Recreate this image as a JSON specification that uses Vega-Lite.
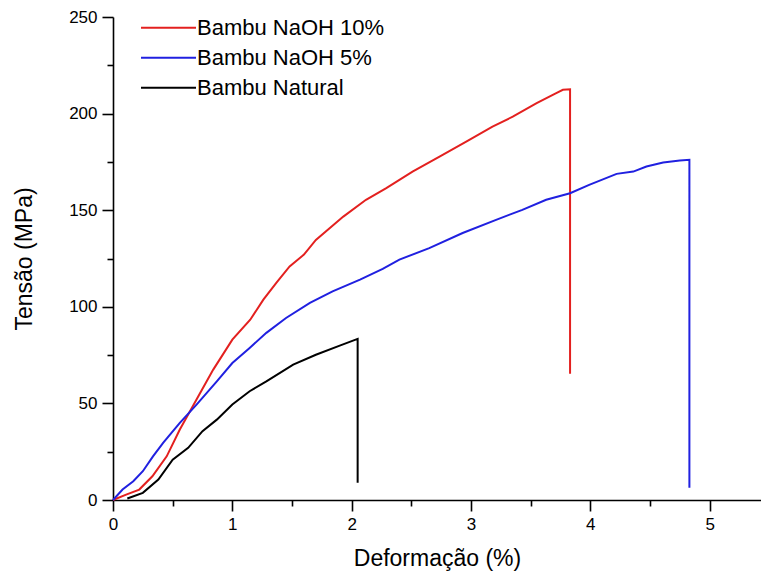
{
 "$schema": "https://vega.github.io/schema/vega-lite/v6.json",
 "width": 648, "height": 483,
 "autosize": {"type": "none"},
 "padding": {"left": 113, "top": 17, "right": 0, "bottom": 78},
 "background": "white",
 "config": {
  "view": {"stroke": null},
  "font": "Liberation Sans",
  "axis": {"grid": false, "domainColor": "#000", "domainWidth": 1.6, "tickColor": "#000", "tickWidth": 1.6, "labelColor": "#000", "titleColor": "#000", "labelFont": "Liberation Sans", "titleFont": "Liberation Sans", "titleFontWeight": "normal"}
 },
 "data": {"values": [
  {"s": "Bambu NaOH 10%", "i": 0, "x": 0, "y": 0},
  {"s": "Bambu NaOH 10%", "i": 1, "x": 0.11, "y": 2.8},
  {"s": "Bambu NaOH 10%", "i": 2, "x": 0.22, "y": 5.4},
  {"s": "Bambu NaOH 10%", "i": 3, "x": 0.33, "y": 12.3},
  {"s": "Bambu NaOH 10%", "i": 4, "x": 0.45, "y": 22.6},
  {"s": "Bambu NaOH 10%", "i": 5, "x": 0.56, "y": 36.5},
  {"s": "Bambu NaOH 10%", "i": 6, "x": 0.70, "y": 52.0},
  {"s": "Bambu NaOH 10%", "i": 7, "x": 0.84, "y": 67.5},
  {"s": "Bambu NaOH 10%", "i": 8, "x": 1.00, "y": 83.0},
  {"s": "Bambu NaOH 10%", "i": 9, "x": 1.15, "y": 93.3},
  {"s": "Bambu NaOH 10%", "i": 10, "x": 1.26, "y": 103.7},
  {"s": "Bambu NaOH 10%", "i": 11, "x": 1.37, "y": 112.5},
  {"s": "Bambu NaOH 10%", "i": 12, "x": 1.48, "y": 120.9},
  {"s": "Bambu NaOH 10%", "i": 13, "x": 1.60, "y": 127.0},
  {"s": "Bambu NaOH 10%", "i": 14, "x": 1.70, "y": 134.6},
  {"s": "Bambu NaOH 10%", "i": 15, "x": 1.93, "y": 146.7},
  {"s": "Bambu NaOH 10%", "i": 16, "x": 2.12, "y": 155.4},
  {"s": "Bambu NaOH 10%", "i": 17, "x": 2.29, "y": 161.4},
  {"s": "Bambu NaOH 10%", "i": 18, "x": 2.51, "y": 170.0},
  {"s": "Bambu NaOH 10%", "i": 19, "x": 2.74, "y": 177.8},
  {"s": "Bambu NaOH 10%", "i": 20, "x": 2.96, "y": 185.5},
  {"s": "Bambu NaOH 10%", "i": 21, "x": 3.18, "y": 193.3},
  {"s": "Bambu NaOH 10%", "i": 22, "x": 3.35, "y": 198.4},
  {"s": "Bambu NaOH 10%", "i": 23, "x": 3.55, "y": 205.4},
  {"s": "Bambu NaOH 10%", "i": 24, "x": 3.71, "y": 210.5},
  {"s": "Bambu NaOH 10%", "i": 25, "x": 3.77, "y": 212.3},
  {"s": "Bambu NaOH 10%", "i": 26, "x": 3.83, "y": 212.6},
  {"s": "Bambu NaOH 10%", "i": 27, "x": 3.83, "y": 65.4},
  {"s": "Bambu NaOH 5%", "i": 0, "x": 0, "y": 0},
  {"s": "Bambu NaOH 5%", "i": 1, "x": 0.08, "y": 5.4},
  {"s": "Bambu NaOH 5%", "i": 2, "x": 0.17, "y": 9.7},
  {"s": "Bambu NaOH 5%", "i": 3, "x": 0.25, "y": 14.9},
  {"s": "Bambu NaOH 5%", "i": 4, "x": 0.335, "y": 22.6},
  {"s": "Bambu NaOH 5%", "i": 5, "x": 0.42, "y": 29.6},
  {"s": "Bambu NaOH 5%", "i": 6, "x": 0.56, "y": 39.9},
  {"s": "Bambu NaOH 5%", "i": 7, "x": 0.70, "y": 49.4},
  {"s": "Bambu NaOH 5%", "i": 8, "x": 0.87, "y": 61.4},
  {"s": "Bambu NaOH 5%", "i": 9, "x": 1.00, "y": 70.9},
  {"s": "Bambu NaOH 5%", "i": 10, "x": 1.145, "y": 78.7},
  {"s": "Bambu NaOH 5%", "i": 11, "x": 1.285, "y": 86.5},
  {"s": "Bambu NaOH 5%", "i": 12, "x": 1.45, "y": 94.2},
  {"s": "Bambu NaOH 5%", "i": 13, "x": 1.65, "y": 102.0},
  {"s": "Bambu NaOH 5%", "i": 14, "x": 1.84, "y": 108.0},
  {"s": "Bambu NaOH 5%", "i": 15, "x": 2.07, "y": 114.1},
  {"s": "Bambu NaOH 5%", "i": 16, "x": 2.26, "y": 119.6},
  {"s": "Bambu NaOH 5%", "i": 17, "x": 2.40, "y": 124.4},
  {"s": "Bambu NaOH 5%", "i": 18, "x": 2.65, "y": 130.4},
  {"s": "Bambu NaOH 5%", "i": 19, "x": 2.93, "y": 138.2},
  {"s": "Bambu NaOH 5%", "i": 20, "x": 3.21, "y": 145.0},
  {"s": "Bambu NaOH 5%", "i": 21, "x": 3.43, "y": 150.2},
  {"s": "Bambu NaOH 5%", "i": 22, "x": 3.63, "y": 155.4},
  {"s": "Bambu NaOH 5%", "i": 23, "x": 3.83, "y": 158.8},
  {"s": "Bambu NaOH 5%", "i": 24, "x": 3.99, "y": 163.1},
  {"s": "Bambu NaOH 5%", "i": 25, "x": 4.22, "y": 168.8},
  {"s": "Bambu NaOH 5%", "i": 26, "x": 4.36, "y": 170.0},
  {"s": "Bambu NaOH 5%", "i": 27, "x": 4.47, "y": 172.6},
  {"s": "Bambu NaOH 5%", "i": 28, "x": 4.61, "y": 174.7},
  {"s": "Bambu NaOH 5%", "i": 29, "x": 4.75, "y": 175.7},
  {"s": "Bambu NaOH 5%", "i": 30, "x": 4.83, "y": 176.1},
  {"s": "Bambu NaOH 5%", "i": 31, "x": 4.83, "y": 6.3},
  {"s": "Bambu Natural", "i": 0, "x": 0.12, "y": 0.8},
  {"s": "Bambu Natural", "i": 1, "x": 0.25, "y": 3.7},
  {"s": "Bambu Natural", "i": 2, "x": 0.38, "y": 10.6},
  {"s": "Bambu Natural", "i": 3, "x": 0.50, "y": 20.9},
  {"s": "Bambu Natural", "i": 4, "x": 0.63, "y": 27.0},
  {"s": "Bambu Natural", "i": 5, "x": 0.75, "y": 35.6},
  {"s": "Bambu Natural", "i": 6, "x": 0.87, "y": 41.6},
  {"s": "Bambu Natural", "i": 7, "x": 1.00, "y": 49.4},
  {"s": "Bambu Natural", "i": 8, "x": 1.145, "y": 56.3},
  {"s": "Bambu Natural", "i": 9, "x": 1.285, "y": 61.4},
  {"s": "Bambu Natural", "i": 10, "x": 1.51, "y": 70.1},
  {"s": "Bambu Natural", "i": 11, "x": 1.70, "y": 75.2},
  {"s": "Bambu Natural", "i": 12, "x": 1.90, "y": 79.9},
  {"s": "Bambu Natural", "i": 13, "x": 2.05, "y": 83.4},
  {"s": "Bambu Natural", "i": 14, "x": 2.05, "y": 8.9}
 ]},
 "layer": [
  {
   "mark": {"type": "line", "strokeWidth": 2},
   "encoding": {
    "x": {"field": "x", "type": "quantitative", "scale": {"domain": [0, 5.43], "nice": false},
          "axis": {"orient": "bottom", "values": [0, 1, 2, 3, 4, 5], "tickSize": 11, "labelFontSize": 17, "labelPadding": 5, "title": "Deformação (%)", "titleFontSize": 23, "titlePadding": 15, "labelFlush": false}},
    "y": {"field": "y", "type": "quantitative", "scale": {"domain": [0, 250], "nice": false},
          "axis": {"orient": "left", "values": [0, 50, 100, 150, 200, 250], "tickSize": 11, "labelFontSize": 17, "labelPadding": 5, "title": "Tensão (MPa)", "titleFontSize": 23, "titlePadding": 32}},
    "color": {"field": "s", "type": "nominal",
              "scale": {"domain": ["Bambu NaOH 10%", "Bambu NaOH 5%", "Bambu Natural"], "range": ["#e3201f", "#2020e0", "#000000"]},
              "legend": {"title": null, "orient": "none", "legendX": 27, "legendY": -4, "symbolType": "stroke", "symbolSize": 3025, "symbolStrokeWidth": 2, "labelFontSize": 22, "labelLimit": 500, "labelColor": "#000", "labelOffset": 0, "clipHeight": 29.5, "rowPadding": 0}},
    "order": {"field": "i", "type": "quantitative"}
   }
  },
  {
   "mark": {"type": "line", "opacity": 0},
   "encoding": {
    "x": {"field": "x", "type": "quantitative", "scale": {"domain": [0, 5.43], "nice": false},
          "axis": {"orient": "bottom", "values": [0.5, 1.5, 2.5, 3.5, 4.5], "tickSize": 6, "labels": false, "domain": false, "title": null}},
    "y": {"field": "y", "type": "quantitative", "scale": {"domain": [0, 250], "nice": false},
          "axis": {"orient": "left", "values": [25, 75, 125, 175, 225], "tickSize": 6, "labels": false, "domain": false, "title": null}},
    "order": {"field": "i", "type": "quantitative"}
   }
  }
 ],
 "resolve": {"axis": {"x": "independent", "y": "independent"}}
}
